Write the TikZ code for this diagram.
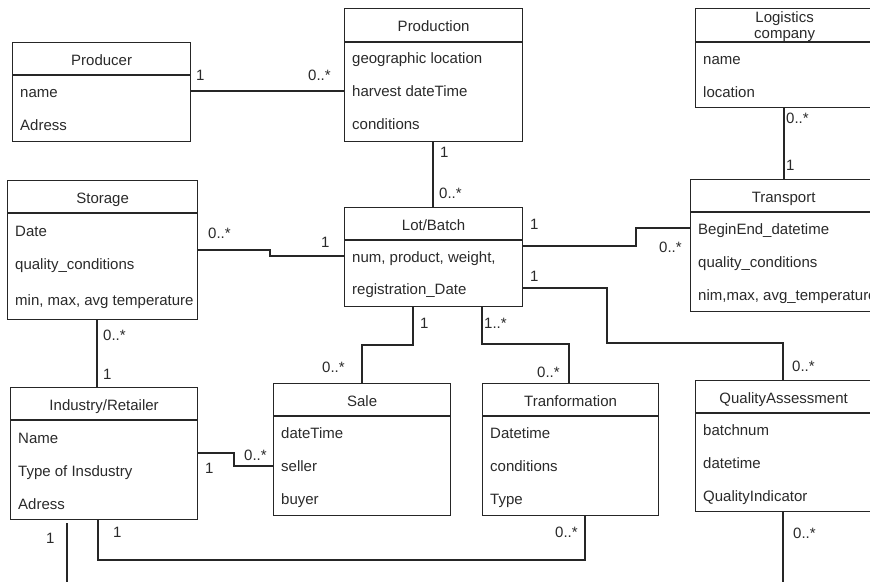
\documentclass[tikz,border=0pt]{standalone}
\usepackage{fontspec}
\setmainfont{Liberation Sans}
\definecolor{ink}{HTML}{2A2A2A}
\definecolor{edge}{HTML}{262626}

% one UML class box: name, x, y, width, height, header height, title
\newcommand\umlclass[7]{%
  \node[cls, minimum width=#4, minimum height=#5] (#1) at (#2,#3) {};
  \draw[link] ([yshift=-#6]#1.north west) -- ([yshift=-#6]#1.north east);
  \node[clstitle] at ([yshift=-#6/2-6.5]#1.north) {#7};
}
% one attribute row: class name, baseline offset from the top, text
\newcommand\umlattr[3]{%
  \node[attr] at ([xshift=8,yshift=-#2]#1.north west) {#3};
}

\begin{document}
\begin{tikzpicture}[x=1pt,y=-1pt,
  cls/.style={draw=edge, line width=1.2pt, fill=white, rectangle, inner sep=0pt, anchor=north west},
  clstitle/.style={text=ink, inner sep=0pt, anchor=base},
  attr/.style={text=ink, inner sep=0pt, anchor=base west},
  mult/.style={text=ink, inner sep=0pt, anchor=base west},
  link/.style={draw=edge, line width=1.2pt},
  font=\fontsize{15}{18}\selectfont]

\clip (0,0) rectangle (870,582);
\fill[white] (0,0) rectangle (870,582);

% ---------- classes ----------
\umlclass{producer}{12}{42}{178}{99}{33}{Producer}
\umlattr{producer}{55}{name}
\umlattr{producer}{88}{Adress}

\umlclass{production}{344}{8}{178}{133}{34}{Production}
\umlattr{production}{55}{geographic location}
\umlattr{production}{88}{harvest dateTime}
\umlattr{production}{121}{conditions}

% logistics company: two-line title
\node[cls, minimum width=178, minimum height=99] (logistics) at (695,8) {};
\draw[link] ([yshift=-34]logistics.north west) -- ([yshift=-34]logistics.north east);
\node[clstitle] at ([yshift=-14]logistics.north) {Logistics};
\node[clstitle] at ([yshift=-30]logistics.north) {company};
\umlattr{logistics}{56}{name}
\umlattr{logistics}{89}{location}

\umlclass{storage}{7}{180}{190}{139}{33}{Storage}
\umlattr{storage}{56}{Date}
\begin{scope}
  \clip (storage.north west) rectangle (storage.south east);
  \umlattr{storage}{89}{quality\_conditions}
  \umlattr{storage}{125}{min, max, avg temperature}
\end{scope}

\umlclass{lot}{344}{207}{178}{99}{33}{Lot/Batch}
\umlattr{lot}{55}{num, product, weight,}
\umlattr{lot}{87}{registration\_Date}

\umlclass{transport}{690}{179}{186}{132}{33}{Transport}
\umlattr{transport}{55}{BeginEnd\_datetime}
\umlattr{transport}{88}{quality\_conditions}
\umlattr{transport}{121}{nim,max, avg\_temperature}

\umlclass{industry}{10}{387}{187}{132}{33}{Industry/Retailer}
\umlattr{industry}{56}{Name}
\umlattr{industry}{89}{Type of Insdustry}
\umlattr{industry}{122}{Adress}

\umlclass{sale}{273}{383}{177}{132}{33}{Sale}
\umlattr{sale}{55}{dateTime}
\umlattr{sale}{88}{seller}
\umlattr{sale}{121}{buyer}

\umlclass{transf}{482}{383}{176}{132}{33}{Tranformation}
\umlattr{transf}{55}{Datetime}
\umlattr{transf}{88}{conditions}
\umlattr{transf}{121}{Type}

\umlclass{quality}{695}{380}{176}{131}{33}{QualityAssessment}
\umlattr{quality}{55}{batchnum}
\umlattr{quality}{88}{datetime}
\umlattr{quality}{121}{QualityIndicator}

% free ends of the two associations leaving the lower border
\coordinate (indout) at (67,582);
\coordinate (qaout) at (783,582);

% ---------- associations ----------
\draw[link] (producer.east |- 0,91) -- (production.west |- 0,91);
\node[mult] at (196,80.5) {1};
\node[mult] at (308,80.5) {0..*};

\draw[link] (433,0 |- production.south) -- (433,0 |- lot.north);
\node[mult] at (440,157.5) {1};
\node[mult] at (439,198.5) {0..*};

\draw[link] (784,0 |- logistics.south) -- (784,0 |- transport.north);
\node[mult] at (786,123) {0..*};
\node[mult] at (786,170) {1};

\draw[link] (storage.east |- 0,250) -- (270,250) -- (270,256) -- (lot.west |- 0,256);
\node[mult] at (208,238) {0..*};
\node[mult] at (321,247) {1};

\draw[link] (lot.east |- 0,246) -- (636,246) -- (636,228) -- (transport.west |- 0,228);
\node[mult] at (530,229) {1};
\node[mult] at (659,252) {0..*};

\draw[link] (lot.east |- 0,288) -- (607,288) -- (607,343) -- (783,343) -- (783,0 |- quality.north);
\node[mult] at (530,281) {1};
\node[mult] at (792,371) {0..*};

\draw[link] (413,0 |- lot.south) -- (413,345) -- (362,345) -- (362,0 |- sale.north);
\node[mult] at (420,328) {1};
\node[mult] at (322,372) {0..*};

\draw[link] (482,0 |- lot.south) -- (482,344) -- (569,344) -- (569,0 |- transf.north);
\node[mult] at (484,328) {1..*};
\node[mult] at (537,377) {0..*};

\draw[link] (97,0 |- storage.south) -- (97,0 |- industry.north);
\node[mult] at (103,340) {0..*};
\node[mult] at (103,379) {1};

\draw[link] (industry.east |- 0,453) -- (234,453) -- (234,466) -- (sale.west |- 0,466);
\node[mult] at (205,473) {1};
\node[mult] at (244,460) {0..*};

\draw[link] (98,0 |- industry.south) -- (98,560) -- (585,560) -- (585,0 |- transf.south);
\node[mult] at (113,537) {1};
\node[mult] at (555,537) {0..*};

\draw[link] ([yshift=-3]industry.south -| indout) -- (indout);
\node[mult] at (46,543) {1};

\draw[link] (quality.south -| qaout) -- (qaout);
\node[mult] at (793,538) {0..*};

\end{tikzpicture}
\end{document}
